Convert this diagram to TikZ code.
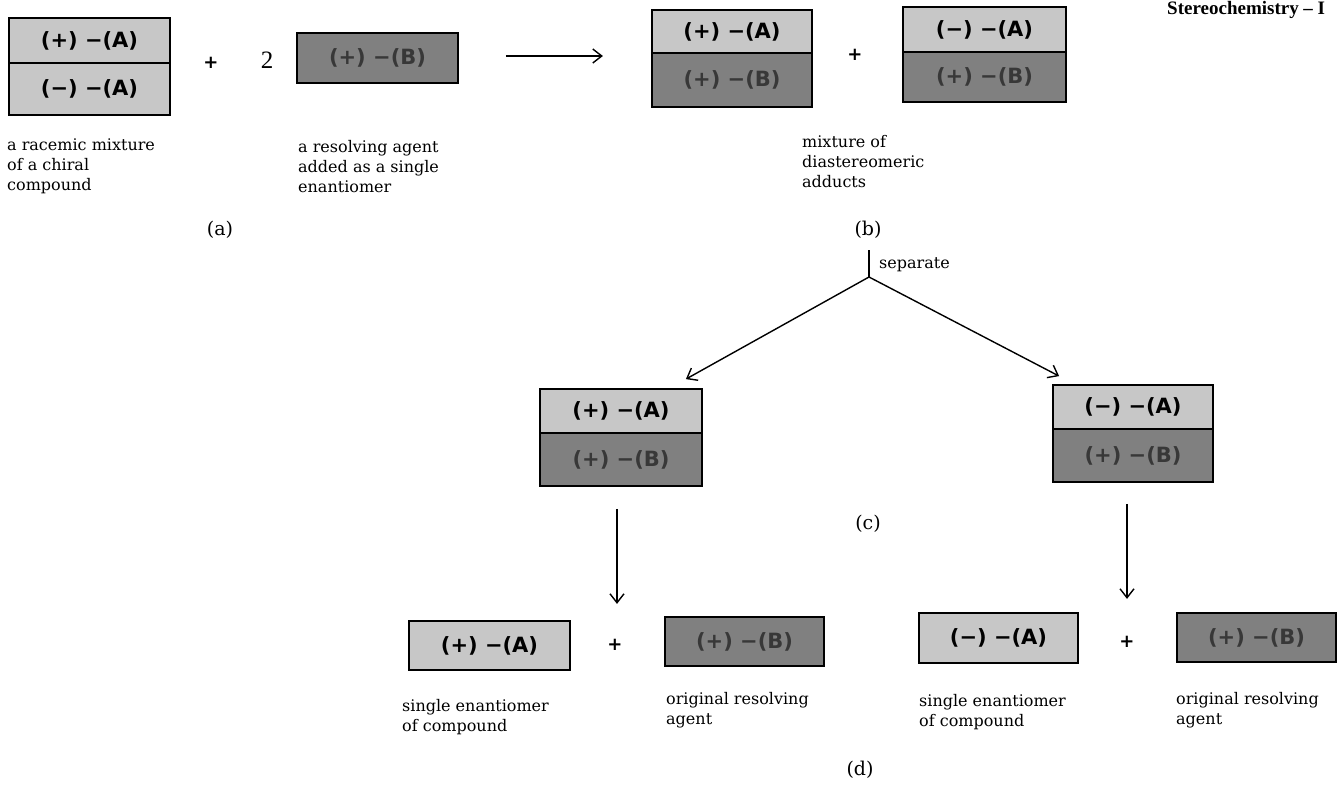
\documentclass[tikz,border=0pt]{standalone}
\usepackage{fontspec}
\usetikzlibrary{arrows.meta}
\newfontfamily\labfont{DejaVu Sans}
\newfontfamily\capfont{DejaVu Serif}
\newfontfamily\numfont{Liberation Serif}
\tikzset{
  molbox/.style={draw=black, line width=1.8pt, inner sep=0pt, minimum width=161pt,
    font=\labfont\bfseries\fontsize{21}{24}\selectfont},
  abox/.style={molbox, fill=black!22, text=black},
  bbox/.style={molbox, fill=black!50, text=black!78},
  captext/.style={font=\capfont\fontsize{16}{20}\selectfont, align=left, anchor=north west, inner sep=0pt},
  steplabel/.style={font=\capfont\fontsize{19}{22}\selectfont, inner sep=0pt},
  plussign/.style={font=\labfont\bfseries\fontsize{18}{20}\selectfont, inner sep=0pt},
  arr/.style={line width=1.4pt, -{Straight Barb[length=9pt,width=14pt,line width=1.4pt]}},
  plainline/.style={line width=1.4pt},
}
\begin{document}
\begin{tikzpicture}[x=1pt,y=-1pt]
\useasboundingbox[fill=white] (0,0) rectangle (1339,787);

% (a) racemic mixture + resolving agent
\node[abox, minimum height=45pt] (rA1) at (89.5,40.5) {(+) −(A)};
\node[abox, minimum height=52pt] (rA2) at (89.5,89) {(−) −(A)};
\node[plussign] (p1) at (211,63) {+};
\node[font=\numfont\fontsize{25}{28}\selectfont, inner sep=0pt] (two) at (267,60) {2};
\node[bbox, minimum height=50pt] (rB) at (377.5,58) {(+) −(B)};
\draw[arr] ([xshift=47pt,yshift=2pt]rB.east) -- ++(97,0);

% (b) diastereomeric adducts
\node[abox, minimum width=160pt, minimum height=43pt] (b1A) at (732,31.5) {(+) −(A)};
\node[bbox, minimum width=160pt, minimum height=54pt] (b1B) at (732,80) {(+) −(B)};
\node[plussign] (p2) at (855,55) {+};
\node[abox, minimum width=163pt, minimum height=45pt] (b2A) at (984.5,29.5) {(−) −(A)};
\node[bbox, minimum width=163pt, minimum height=50pt] (b2B) at (984.5,77) {(+) −(B)};

% captions
\node[captext] (capa) at (7,139) {a racemic mixture\\of a chiral\\compound};
\node[captext] (capB) at (298,140) {a resolving agent\\added as a single\\enantiomer};
\node[captext] (capb) at (802,135) {mixture of\\diastereomeric\\adducts};
\node[steplabel] (la) at (220,230) {(a)};
\node[steplabel] (lb) at (868,230) {(b)};

% separate
\coordinate (septop) at (869,250);
\coordinate (fork) at (869,277);
\draw[plainline] (septop) -- (fork);
\node[captext, anchor=west] (sep) at (879,265) {separate};

% (c)
\node[abox, minimum width=162pt, minimum height=44pt] (c1A) at (621,411) {(+) −(A)};
\node[bbox, minimum width=162pt, minimum height=53pt] (c1B) at (621,459.5) {(+) −(B)};
\node[abox, minimum width=160pt, minimum height=44pt] (c2A) at (1133,407) {(−) −(A)};
\node[bbox, minimum width=160pt, minimum height=53pt] (c2B) at (1133,455.5) {(+) −(B)};
\draw[arr] (fork) -- ([xshift=-17pt,yshift=9pt]c1A.north east);
\draw[arr] (fork) -- ([xshift=7pt,yshift=8pt]c2A.north west);
\node[steplabel] (lc) at (868,524) {(c)};
\draw[arr] ([xshift=-4pt,yshift=-22pt]c1B.south) -- ++(0,95);
\draw[arr] ([xshift=-6pt,yshift=-21pt]c2B.south) -- ++(0,95);

% (d)
\node[abox, minimum height=49pt] (d1) at (489.5,645.5) {(+) −(A)};
\node[plussign] (p3) at (615,645) {+};
\node[bbox, minimum width=159pt, minimum height=49pt] (d2) at (744.5,641.5) {(+) −(B)};
\node[abox, minimum width=159pt, minimum height=50pt] (d3) at (998.5,638) {(−) −(A)};
\node[plussign] (p4) at (1127,642) {+};
\node[bbox, minimum width=159pt, minimum height=49pt] (d4) at (1256.5,637.5) {(+) −(B)};
\node[captext] (capd1) at (402,699) {single enantiomer\\of compound};
\node[captext] (capd2) at (666,692) {original resolving\\agent};
\node[captext] (capd3) at (919,694) {single enantiomer\\of compound};
\node[captext] (capd4) at (1176,692) {original resolving\\agent};
\node[steplabel] (ld) at (860,770) {(d)};

% running head
\node[font=\numfont\bfseries\fontsize{19}{22}\selectfont, anchor=west, inner sep=0pt] (hdr) at (1167,10) {Stereochemistry – I};
\end{tikzpicture}
\end{document}
